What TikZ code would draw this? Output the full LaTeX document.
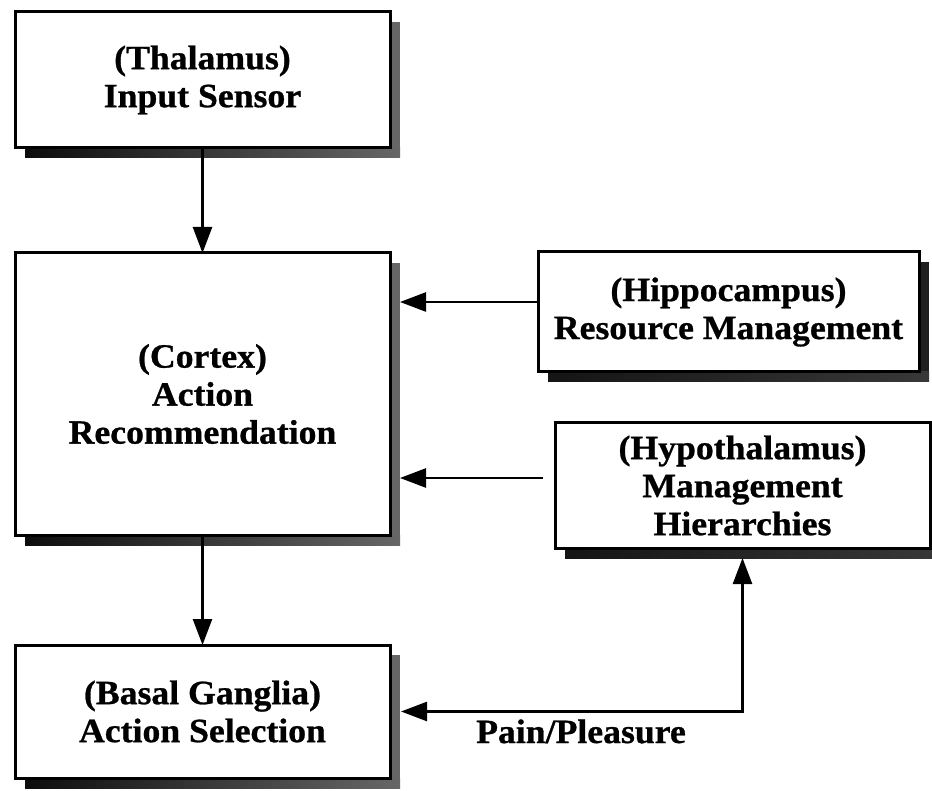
\documentclass[tikz,border=0pt]{standalone}
\usepackage{fontspec}
\setmainfont{Liberation Serif}[FakeStretch=1.05, BoldFeatures={FakeBold=0.8}]
\usetikzlibrary{arrows.meta,backgrounds}

% grainy drop shadow on the right and bottom of a box
\newcommand\dropshade[3]{%
  \fill[#2] ([yshift=-10pt]#1.north east) rectangle ([xshift=10pt,yshift=-10pt]#1.south east);
  \fill[#3] ([xshift=10pt]#1.south west) rectangle ([xshift=10pt,yshift=-10pt]#1.south east);
}

\begin{document}
\begin{tikzpicture}[x=1pt,y=-1pt,
  unit/.style={draw=black, line width=3pt, fill=white, outer sep=0pt, inner sep=0pt,
    align=center, font=\fontsize{34}{38}\selectfont\bfseries},
  lbl/.style={inner sep=0pt, font=\fontsize{34}{38}\selectfont\bfseries},
  tip/.tip={Triangle[length=26pt,width=19pt]},
  flow/.style={line width=2.5pt, -tip},
  both/.style={line width=2.5pt, tip-tip},
  shadeR/.style={fill=black!60},
  shadeB/.style={left color=black!95, right color=black!60},
  darkR/.style={fill=black!88},
  darkB/.style={left color=black!92, right color=black!78},
]
\useasboundingbox (0,0) rectangle (932,791);
\clip (0,0) rectangle (932,791);

% boxes
\node[unit, minimum width=375pt, minimum height=136pt] (thal)   at (202.5,80)    {(Thalamus)\\Input Sensor};
\node[unit, minimum width=375pt, minimum height=282pt] (cortex) at (202.5,394)   {(Cortex)\\Action\\Recommendation};
\node[unit, minimum width=375pt, minimum height=133pt] (basal)  at (202.5,711.5) {(Basal Ganglia)\\Action Selection};
\node[unit, minimum width=381pt, minimum height=120pt] (hippo)  at (728.5,312)   {(Hippocampus)\\Resource Management};
\node[unit, minimum width=375pt, minimum height=125pt] (hyp)    at (742.5,485.5) {(Hypothalamus)\\Management\\Hierarchies};

% shadows behind the boxes
\begin{scope}[on background layer]
  \dropshade{thal}{shadeR}{shadeB}
  \dropshade{cortex}{shadeR}{shadeB}
  \dropshade{basal}{shadeR}{shadeB}
  \dropshade{hippo}{darkR}{darkB}
  \dropshade{hyp}{darkR}{darkB}
\end{scope}

% connection points on the shadow edges
\coordinate (ctxR)  at ([xshift=10pt]cortex.east);
\coordinate (hipIn) at ([yshift=10pt]hippo.west);
\coordinate (hypIn) at ([xshift=-12pt,yshift=7.5pt]hyp.west);
\coordinate (basR)  at ([xshift=11pt]basal.east);
\coordinate (hypB)  at ([yshift=-10pt]hyp.south);

% connectors
\draw[flow] (thal) -- (cortex);
\draw[flow] (cortex) -- (basal);
\draw[flow] (hipIn) -- (hipIn -| ctxR);
\draw[flow] (hypIn) -- (hypIn -| ctxR);
\draw[both] (basR) -| (hypB);

\node[lbl, anchor=base] (pp) at (581,743) {Pain/Pleasure};
\end{tikzpicture}
\end{document}
